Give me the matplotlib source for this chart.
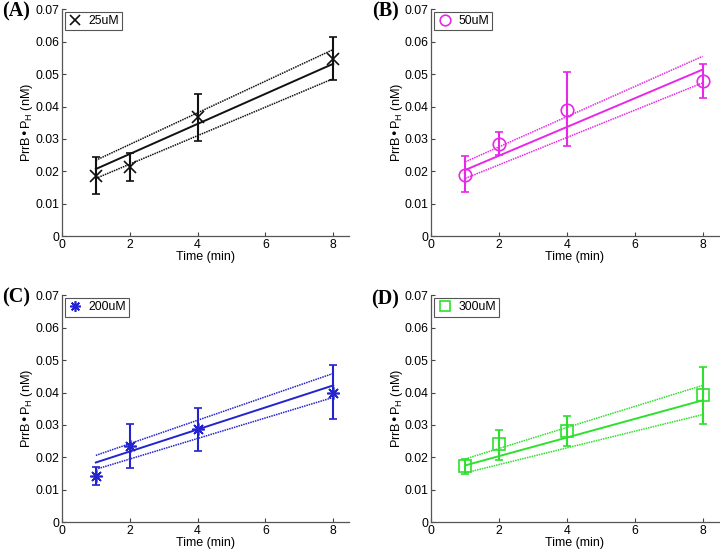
import matplotlib.pyplot as plt

plt.rcParams['font.family'] = ['Liberation Sans', 'DejaVu Sans']

# measured time points (min)
time = [1, 2, 4, 8]

# PrrB-PH (nM) per concentration, mean and error bar ends
y_25 = [0.0185, 0.0214, 0.0368, 0.0548]
lo_25 = [0.0129, 0.0169, 0.0294, 0.0483]
hi_25 = [0.0243, 0.0258, 0.0438, 0.0615]

y_50 = [0.0190, 0.0285, 0.0390, 0.0478]
lo_50 = [0.0135, 0.0250, 0.0277, 0.0427]
hi_50 = [0.0247, 0.0322, 0.0505, 0.0530]

y_200 = [0.0142, 0.0235, 0.0286, 0.0400]
lo_200 = [0.0114, 0.0166, 0.0218, 0.0317]
hi_200 = [0.0169, 0.0304, 0.0352, 0.0484]

y_300 = [0.0173, 0.0240, 0.0281, 0.0391]
lo_300 = [0.0150, 0.0193, 0.0235, 0.0304]
hi_300 = [0.0195, 0.0285, 0.0327, 0.0479]

# linear fit and confidence band, values at t=1 and t=8
fit_x = [1, 8]
fit_25 = [0.0207, 0.0532]
up_25 = [0.0234, 0.0576]
dn_25 = [0.0178, 0.0486]

fit_50 = [0.0204, 0.0514]
up_50 = [0.0229, 0.0555]
dn_50 = [0.0178, 0.0473]

fit_200 = [0.0184, 0.0422]
up_200 = [0.0206, 0.0459]
dn_200 = [0.0163, 0.0385]

fit_300 = [0.0175, 0.0376]
up_300 = [0.0195, 0.0422]
dn_300 = [0.0152, 0.0332]

panels = [
    ('(A)', '25uM', 'x', '#111111', y_25, lo_25, hi_25, fit_25, up_25, dn_25),
    ('(B)', '50uM', 'o', '#e828e8', y_50, lo_50, hi_50, fit_50, up_50, dn_50),
    ('(C)', '200uM', (8, 2, 0), '#2323cf', y_200, lo_200, hi_200, fit_200, up_200, dn_200),
    ('(D)', '300uM', 's', '#2ee02e', y_300, lo_300, hi_300, fit_300, up_300, dn_300),
]

# axes rectangles in figure fractions (left, bottom, width, height)
rects = [
    [0.086, 0.570, 0.399, 0.413],
    [0.599, 0.570, 0.399, 0.413],
    [0.086, 0.049, 0.399, 0.413],
    [0.599, 0.049, 0.399, 0.413],
]
tag_y = [0.99, 0.99, 0.99, 0.98]

fig = plt.figure(figsize=(7.2, 5.49), dpi=100)

for rect, ty, (tag, label, marker, color, y, lo, hi, fit, up, dn) in zip(rects, tag_y, panels):
    ax = fig.add_axes(rect)
    yerr = [[m - l for m, l in zip(y, lo)], [h - m for m, h in zip(y, hi)]]
    ax.errorbar(time, y, yerr=yerr, fmt='none', ecolor=color, elinewidth=1.5,
                capsize=3, capthick=1.2)
    ax.plot(time, y, linestyle='none', marker=marker, markersize=9,
            markerfacecolor='none', markeredgecolor=color, markeredgewidth=1.2,
            label=label)
    ax.plot(fit_x, fit, color=color, lw=1.4)
    ax.plot(fit_x, up, color=color, lw=1.1, ls=(0, (1, 0.6)))
    ax.plot(fit_x, dn, color=color, lw=1.1, ls=(0, (1, 0.6)))

    ax.set_xlim(0, 8.47)
    ax.set_ylim(0, 0.07)
    ax.set_xticks([0, 2, 4, 6, 8])
    ax.set_yticks([0, 0.01, 0.02, 0.03, 0.04, 0.05, 0.06, 0.07])
    ax.set_yticklabels(['0', '0.01', '0.02', '0.03', '0.04', '0.05', '0.06', '0.07'])
    ax.tick_params(direction='in', labelsize=8.8, length=3, pad=2, color='#444444')
    ax.spines['top'].set_visible(False)
    ax.spines['right'].set_visible(False)
    for s in ('left', 'bottom'):
        ax.spines[s].set_color('#555555')
        ax.spines[s].set_linewidth(0.9)
    ax.set_xlabel('Time (min)', fontsize=9, labelpad=0)
    ax.set_ylabel(r'PrrB•P$_\mathregular{H}$ (nM)', fontsize=9.2, labelpad=0)

    leg = ax.legend(loc='upper left', fontsize=8.8, fancybox=False, framealpha=1,
                    borderpad=0.25, handletextpad=0.5, handlelength=1.2,
                    borderaxespad=0.25, markerscale=0.85)
    leg.get_frame().set_edgecolor('#555555')
    leg.get_frame().set_linewidth(0.8)

    ax.text(-0.16, ty, tag, transform=ax.transAxes, fontsize=14.5, fontweight='bold',
            family='Liberation Serif', ha='center', va='center')

fig.savefig('out.png', dpi=100)
